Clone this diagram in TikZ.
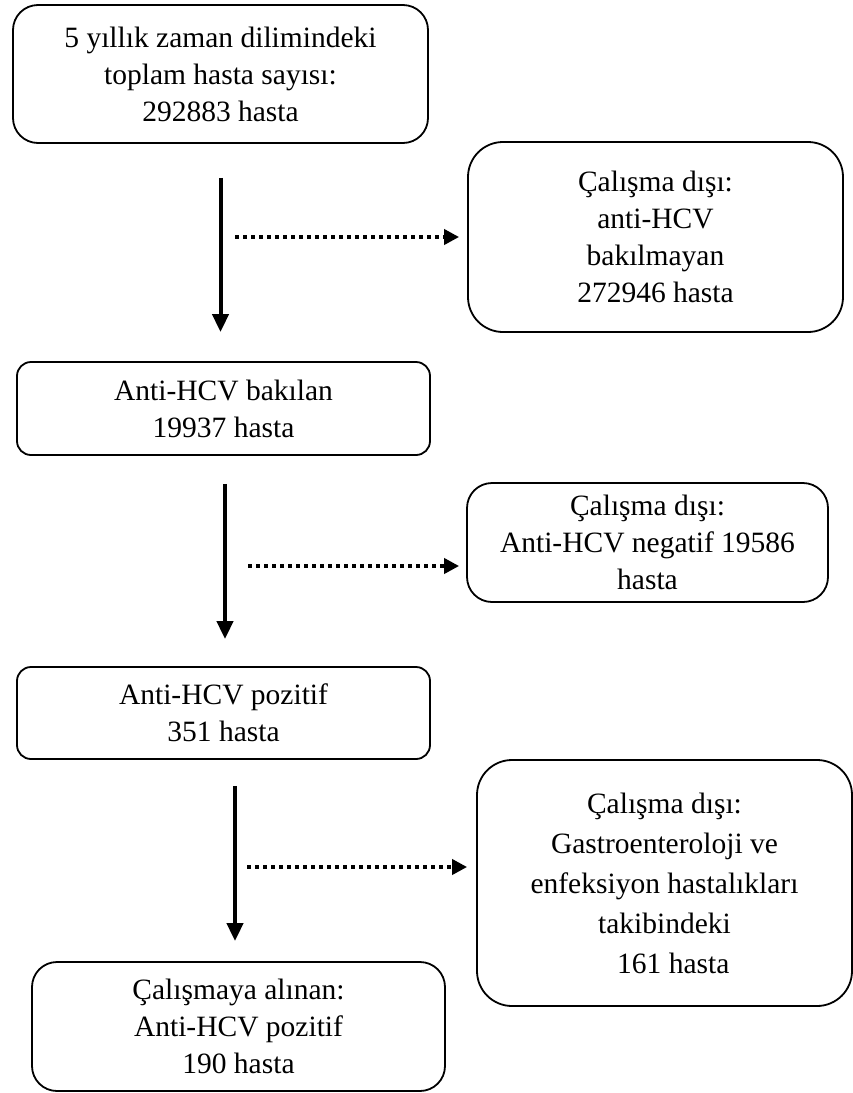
\documentclass[tikz,border=0pt]{standalone}
\usepackage{fontspec}
\setmainfont{Liberation Serif}
\usetikzlibrary{arrows.meta}
\begin{document}
\begin{tikzpicture}[x=1pt,y=-1pt,
  box/.style={draw, line width=1.8pt, rounded corners=#1, align=center, inner sep=0pt,
    font=\fontsize{29.5}{37}\selectfont},
  box/.default=25pt,
  solidarr/.style={line width=4pt, -{Triangle[length=18pt,width=16pt]}},
  dotarr/.style={line width=4pt, dash pattern=on 4pt off 4pt, -{Triangle[length=15pt,width=15pt]}}]
\useasboundingbox (0,0) rectangle (853,1093);

\node[box=25pt, minimum width=415pt, minimum height=138pt] (B1) at (220.5,74)
  {5 yıllık zaman dilimindeki\\toplam hasta sayısı:\\292883 hasta};
\node[box=35pt, minimum width=375pt, minimum height=190pt] (B2) at (655.5,237)
  {Çalışma dışı:\\anti-HCV\\bakılmayan\\272946 hasta};
\node[box=14pt, minimum width=413pt, minimum height=93pt] (B3) at (223.5,408.5)
  {Anti-HCV bakılan\\19937 hasta};
\node[box=25pt, minimum width=361pt, minimum height=119pt] (B4) at (647.5,542.5)
  {Çalışma dışı:\\Anti-HCV negatif 19586\\hasta};
\node[box=14pt, minimum width=413pt, minimum height=92pt] (B5) at (223.5,713)
  {Anti-HCV pozitif\\351 hasta};
\node[box=35pt, minimum width=375pt, minimum height=246pt,
  font=\fontsize{29.5}{40}\selectfont] (B6) at (664.5,883)
  {Çalışma dışı:\\Gastroenteroloji ve\\enfeksiyon hastalıkları\\takibindeki\\\hspace{0.6em}161 hasta};
\node[box=25pt, minimum width=413pt, minimum height=129pt] (B7) at (238.5,1026.5)
  {Çalışmaya alınan:\\Anti-HCV pozitif\\190 hasta};

% main flow arrows
\draw[solidarr, shorten <=34pt, shorten >=29pt] (B1.south) -- (B1.south |- B3.north);
\draw[solidarr, shorten <=28pt, shorten >=27pt] ([xshift=1.5pt]B3.south) -- ([xshift=1.5pt]B3.south |- B5.north);
\draw[solidarr, shorten <=26pt, shorten >=20pt] ([xshift=11.5pt]B5.south) -- ([xshift=11.5pt]B5.south |- B7.north);

% exclusion arrows
\coordinate (d1) at (235,237);
\coordinate (d2) at (248,566);
\coordinate (d3) at (247,867);
\draw[dotarr, shorten >=8pt] (d1) -- (d1 -| B2.west);
\draw[dotarr, shorten >=7pt] (d2) -- (d2 -| B4.west);
\draw[dotarr, shorten >=9pt] (d3) -- (d3 -| B6.west);
\end{tikzpicture}
\end{document}
